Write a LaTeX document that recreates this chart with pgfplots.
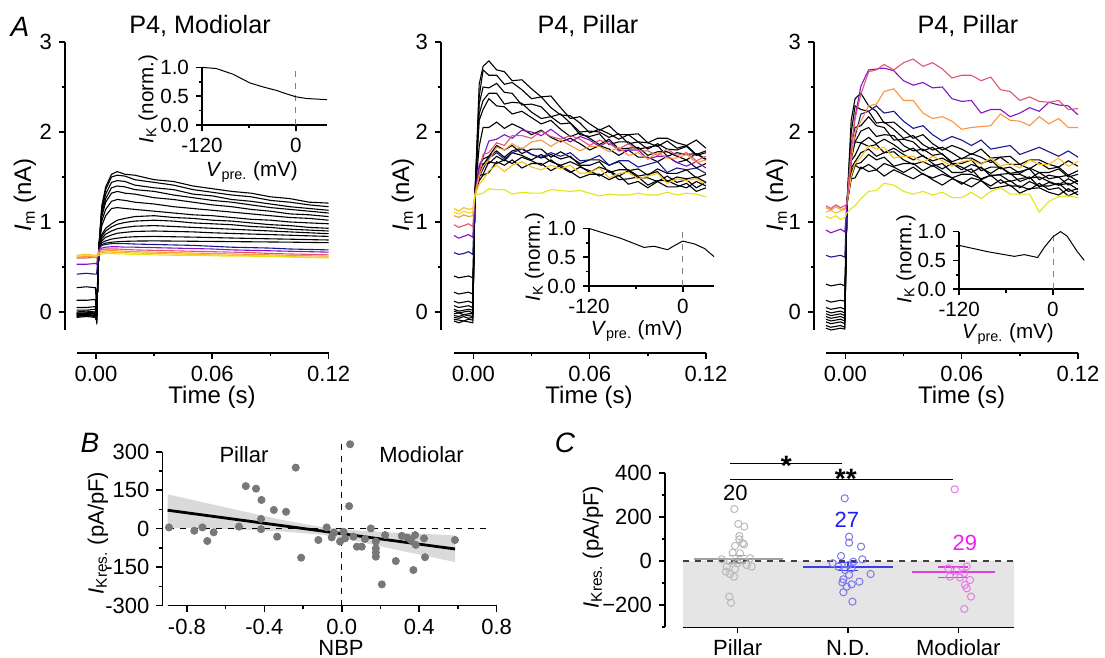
\documentclass[border=0pt]{standalone}
\usepackage{fontspec}
\setmainfont{Liberation Sans}
\setsansfont{Liberation Sans}
\usepackage{pgfplots}
\usepackage{pgfplotstable}
\pgfplotsset{compat=1.18}

\definecolor{cnv}{RGB}{25,25,140}
\definecolor{cpu}{RGB}{130,20,200}
\definecolor{cpk}{RGB}{225,85,110}
\definecolor{cor}{RGB}{250,150,60}
\definecolor{cgo}{RGB}{250,190,30}
\definecolor{cye}{RGB}{225,230,20}
\definecolor{dotB}{RGB}{120,120,120}
\definecolor{bandB}{RGB}{218,218,218}
\definecolor{pilC}{RGB}{185,185,185}
\definecolor{pilL}{RGB}{160,160,160}
\definecolor{ndC}{RGB}{120,120,235}
\definecolor{ndL}{RGB}{60,60,235}
\definecolor{moC}{RGB}{235,120,235}
\definecolor{moL}{RGB}{225,60,225}
\definecolor{ndT}{RGB}{30,30,240}
\definecolor{moT}{RGB}{240,30,240}

\newcommand\tk{\fontsize{11}{13}\selectfont}
\newcommand\lab{\fontsize{11}{13}\selectfont}
\newcommand\alab{\fontsize{12}{14}\selectfont}
\newcommand\ttl{\fontsize{12.6}{15}\selectfont}
\newcommand\ins{\fontsize{10.3}{12}\selectfont}

\pgfplotsset{
  panel/.style={scale only axis, anchor=south west, clip=false,
    axis x line*=bottom, axis y line*=left,
    axis line style={line width=0.8pt},
    tick style={black, line width=0.8pt},
    tick align=outside, major tick length=3pt, minor tick length=1.7pt,
    tick label style={font=\tk},
    /pgf/number format/assume math mode=true},
  inset/.style={panel, width=62.5pt, height=28.8pt, xmin=-120, xmax=40, ymin=0, ymax=1,
    xtick={-120,0}, minor xtick={-60}, ytick={0,0.5,1}, minor ytick={0.25,0.75},
    yticklabel style={/pgf/number format/.cd, fixed, fixed zerofill, precision=1},
    tick label style={font=\ins}},
  trace/.style={panel, width=126pt, height=144pt, xmin=-0.01, xmax=0.12, ymin=-0.2, ymax=3,
    xtick={0,0.06,0.12}, minor xtick={0.03,0.09}, ytick={0,1,2,3}, minor ytick={0.5,1.5,2.5},
    xticklabel style={/pgf/number format/.cd, fixed, fixed zerofill, precision=2},
    axis x line shift=11.5pt},
  tr/.style={line width=0.55pt},
}

% A, P4 modiolar: one row per time point
\pgfplotstableread{
x k1 k2 k3 k4 k5 k6 k7 k8 k9 k10 k11 k12 k13 nv pu pk or go ye
-0.010 -0.06 -0.05 -0.04 -0.04 -0.03 -0.02 -0.02 -0.01 0.00 0.02 0.05 0.13 0.27 0.42 0.53 0.60 0.61 0.63 0.62
-0.005 -0.05 -0.04 -0.04 -0.03 -0.03 -0.02 -0.01 -0.01 0.01 0.02 0.05 0.13 0.28 0.43 0.53 0.60 0.62 0.64 0.63
-0.0003 -0.06 -0.05 -0.03 -0.04 -0.02 -0.01 -0.02 0.00 0.00 0.03 0.06 0.14 0.27 0.42 0.54 0.61 0.61 0.63 0.62
0.0003 -0.09 -0.09 -0.09 -0.09 -0.09 -0.09 -0.09 -0.09 -0.09 -0.09 -0.09 -0.05 0.05 0.42 0.53 0.60 0.61 0.63 0.62
0.0015 0.72 0.72 0.72 0.72 0.72 0.72 0.72 0.72 0.72 0.72 0.72 0.72 0.72 0.70 0.69 0.68 0.66 0.65 0.63
0.003 1.18 1.16 1.13 1.09 1.06 1.01 0.96 0.86 0.84 0.815 0.79 0.77 0.75 0.74 0.71 0.69 0.67 0.66 0.645
0.005 1.39 1.36 1.31 1.26 1.22 1.14 1.07 0.93 0.90 0.865 0.83 0.79 0.765 0.75 0.72 0.70 0.68 0.665 0.65
0.008 1.53 1.50 1.44 1.38 1.32 1.23 1.15 0.98 0.945 0.90 0.855 0.81 0.775 0.76 0.725 0.70 0.68 0.665 0.65
0.011 1.56 1.52 1.46 1.40 1.34 1.25 1.16 1.02 0.975 0.925 0.875 0.82 0.78 0.76 0.725 0.70 0.68 0.66 0.645
0.015 1.53 1.51 1.45 1.39 1.32 1.24 1.15 1.04 0.995 0.94 0.885 0.83 0.785 0.76 0.72 0.695 0.675 0.66 0.645
0.020 1.52 1.47 1.41 1.36 1.31 1.22 1.14 1.06 1.01 0.953 0.895 0.836 0.788 0.755 0.72 0.69 0.67 0.655 0.64
0.030 1.47 1.44 1.38 1.34 1.27 1.20 1.12 1.07 1.02 0.96 0.90 0.84 0.79 0.75 0.715 0.685 0.665 0.65 0.635
0.040 1.45 1.41 1.36 1.30 1.25 1.17 1.10 1.05 1.01 0.95 0.895 0.836 0.788 0.745 0.71 0.68 0.66 0.645 0.63
0.050 1.40 1.36 1.31 1.27 1.22 1.15 1.08 1.04 0.99 0.94 0.89 0.832 0.786 0.74 0.705 0.675 0.655 0.64 0.63
0.060 1.37 1.33 1.29 1.24 1.19 1.13 1.07 1.02 0.98 0.93 0.88 0.827 0.784 0.73 0.70 0.67 0.65 0.635 0.625
0.070 1.34 1.30 1.25 1.22 1.17 1.11 1.05 1.01 0.97 0.92 0.873 0.822 0.782 0.72 0.69 0.665 0.645 0.63 0.62
0.080 1.32 1.28 1.23 1.19 1.14 1.09 1.03 0.99 0.95 0.91 0.866 0.817 0.78 0.715 0.685 0.66 0.64 0.625 0.62
0.090 1.28 1.24 1.20 1.16 1.12 1.07 1.02 0.97 0.94 0.90 0.86 0.813 0.778 0.71 0.68 0.65 0.635 0.62 0.615
0.100 1.26 1.22 1.17 1.14 1.09 1.05 1.00 0.96 0.92 0.89 0.853 0.809 0.776 0.70 0.675 0.645 0.63 0.615 0.61
0.110 1.22 1.19 1.15 1.12 1.08 1.04 0.99 0.94 0.91 0.88 0.846 0.804 0.773 0.695 0.67 0.64 0.625 0.61 0.605
0.120 1.21 1.17 1.13 1.10 1.06 1.02 0.98 0.93 0.90 0.87 0.84 0.80 0.77 0.69 0.665 0.635 0.62 0.605 0.60
}\tabA

% A, first P4 pillar cell: one row per trace, transposed below
\pgfplotstableread{
name a1 a2 a3 a4 a5 a6 a7 a8 a9 a10 a11 a12 a13 a14 a15 a16 a17 a18 a19 a20 a21 a22 a23 a24 a25 a26 a27 a28 a29 a30 a31 a32
x -0.01 -0.0075 -0.005 -0.0025 -0.0003 0.0008 0.003 0.005 0.008 0.012 0.016 0.02 0.025 0.03 0.035 0.04 0.045 0.05 0.055 0.06 0.065 0.07 0.075 0.08 0.085 0.09 0.095 0.1 0.105 0.11 0.115 0.12
t1 -0.10 -0.12 -0.10 -0.11 -0.12 1.30 2.53 2.73 2.79 2.69 2.67 2.57 2.58 2.48 2.39 2.40 2.27 2.15 2.17 2.09 2.02 2.07 1.97 1.97 1.98 1.88 1.93 1.93 1.88 1.85 1.91 1.82
t2 -0.08 -0.09 -0.10 -0.08 -0.09 1.30 2.39 2.69 2.63 2.63 2.53 2.55 2.47 2.37 2.39 2.27 2.19 2.18 2.10 1.99 2.03 1.98 1.92 1.97 1.89 1.88 1.84 1.90 1.82 1.85 1.75 1.79
t3 -0.06 -0.07 -0.05 -0.07 -0.06 1.30 2.31 2.50 2.49 2.54 2.44 2.43 2.30 2.31 2.28 2.17 2.20 2.10 2.00 2.01 2.00 1.94 1.98 1.87 1.89 1.81 1.87 1.81 1.80 1.84 1.74 1.77
t4 -0.04 -0.05 -0.03 -0.04 -0.05 1.30 2.20 2.35 2.43 2.43 2.31 2.33 2.32 2.22 2.15 2.17 2.09 2.10 1.97 1.95 1.98 1.86 1.89 1.89 1.81 1.83 1.85 1.73 1.77 1.75 1.76 1.69
t5 -0.02 -0.01 -0.03 -0.02 -0.02 1.30 2.13 2.25 2.37 2.29 2.28 2.20 2.23 2.16 2.09 2.13 2.03 1.95 1.99 1.93 1.86 1.92 1.81 1.82 1.83 1.74 1.78 1.78 1.73 1.69 1.76 1.70
t6 0.01 -0.01 0.00 0.01 -0.01 1.30 1.84 2.05 2.05 2.11 2.04 2.09 2.04 1.97 2.02 1.94 1.89 1.93 1.87 1.80 1.85 1.81 1.74 1.80 1.72 1.72 1.67 1.73 1.66 1.69 1.60 1.65
t7 0.03 0.01 0.02 0.03 0.02 1.30 1.61 1.70 1.73 1.85 1.80 1.85 1.76 1.81 1.81 1.72 1.78 1.72 1.65 1.69 1.69 1.63 1.67 1.57 1.59 1.52 1.59 1.54 1.54 1.58 1.49 1.53
t8 0.07 0.05 0.06 0.07 0.05 1.30 1.55 1.63 1.73 1.79 1.72 1.79 1.82 1.75 1.71 1.75 1.70 1.73 1.63 1.63 1.67 1.55 1.58 1.58 1.51 1.53 1.56 1.45 1.50 1.48 1.50 1.44
t9 0.12 0.10 0.11 0.12 0.10 1.30 1.49 1.65 1.65 1.73 1.68 1.77 1.74 1.69 1.75 1.67 1.63 1.67 1.62 1.55 1.61 1.57 1.51 1.57 1.49 1.49 1.45 1.51 1.44 1.47 1.38 1.44
t10 0.22 0.20 0.21 0.22 0.20 1.30 1.51 1.53 1.67 1.65 1.69 1.65 1.72 1.68 1.63 1.69 1.61 1.55 1.61 1.57 1.51 1.57 1.47 1.48 1.50 1.41 1.46 1.46 1.41 1.38 1.45 1.40
t11 0.40 0.38 0.39 0.40 0.38 1.30 1.46 1.52 1.55 1.67 1.63 1.69 1.60 1.65 1.65 1.57 1.63 1.56 1.49 1.53 1.53 1.47 1.52 1.42 1.45 1.38 1.45 1.39 1.39 1.43 1.34 1.38
nv 0.66 0.64 0.65 0.67 0.64 1.30 1.50 1.59 1.71 1.77 1.70 1.77 1.81 1.75 1.72 1.77 1.73 1.77 1.68 1.69 1.74 1.63 1.68 1.68 1.61 1.64 1.67 1.55 1.60 1.58 1.60 1.54
pu 0.85 0.82 0.84 0.86 0.83 1.30 1.63 1.72 1.90 1.92 1.97 1.93 2.02 2.00 1.96 2.03 1.95 1.89 1.95 1.91 1.84 1.90 1.79 1.80 1.80 1.70 1.73 1.73 1.66 1.62 1.67 1.60
pk 0.97 0.94 0.96 0.98 0.95 1.30 1.54 1.75 1.77 1.88 1.85 1.96 1.96 1.93 2.01 1.95 1.92 1.96 1.92 1.85 1.91 1.87 1.81 1.87 1.79 1.79 1.74 1.81 1.74 1.77 1.68 1.73
or 1.07 1.05 1.08 1.06 1.07 1.30 1.51 1.62 1.69 1.83 1.80 1.87 1.81 1.89 1.91 1.84 1.91 1.85 1.79 1.84 1.84 1.78 1.83 1.74 1.77 1.70 1.77 1.71 1.71 1.75 1.66 1.69
go 1.15 1.12 1.16 1.14 1.15 1.30 1.42 1.47 1.57 1.63 1.56 1.63 1.67 1.61 1.58 1.63 1.59 1.63 1.54 1.55 1.60 1.49 1.54 1.55 1.48 1.51 1.54 1.43 1.48 1.46 1.48 1.42
ye 1.11 1.09 1.12 1.10 1.11 1.30 1.31 1.32 1.37 1.36 1.36 1.31 1.33 1.32 1.32 1.36 1.35 1.34 1.35 1.32 1.29 1.31 1.30 1.30 1.32 1.30 1.30 1.33 1.30 1.32 1.31 1.28
}\rawB
\pgfplotstabletranspose[colnames from=name]\tabB{\rawB}

% A, second P4 pillar cell
\pgfplotstableread{
name a1 a2 a3 a4 a5 a6 a7 a8 a9 a10 a11 a12 a13 a14 a15 a16 a17 a18 a19 a20 a21 a22 a23 a24 a25 a26 a27 a28 a29 a30 a31 a32
x -0.01 -0.0075 -0.005 -0.0025 -0.0003 0.0008 0.003 0.005 0.008 0.012 0.016 0.02 0.025 0.03 0.035 0.04 0.045 0.05 0.055 0.06 0.065 0.07 0.075 0.08 0.085 0.09 0.095 0.1 0.105 0.11 0.115 0.12
b1 0.31 0.29 0.30 0.31 0.29 1.20 2.13 2.37 2.43 2.29 2.23 2.10 2.11 2.02 1.93 1.97 1.87 1.80 1.85 1.81 1.75 1.81 1.71 1.72 1.73 1.64 1.69 1.69 1.64 1.61 1.68 1.62
b2 0.13 0.11 0.12 0.13 0.12 1.20 1.99 2.29 2.25 2.23 2.10 2.11 2.03 1.93 1.96 1.86 1.80 1.83 1.77 1.70 1.76 1.72 1.66 1.72 1.64 1.64 1.59 1.66 1.59 1.61 1.52 1.57
b3 0.05 0.03 0.04 0.05 0.03 1.20 1.86 2.05 2.07 2.17 2.07 2.05 1.91 1.92 1.89 1.79 1.83 1.75 1.67 1.71 1.71 1.65 1.69 1.59 1.61 1.54 1.60 1.55 1.55 1.59 1.50 1.53
b4 0.01 -0.01 0.00 0.01 -0.01 1.20 1.75 1.89 2.01 2.05 1.95 1.97 1.96 1.85 1.79 1.81 1.74 1.76 1.65 1.65 1.69 1.57 1.61 1.61 1.54 1.56 1.59 1.47 1.52 1.50 1.52 1.45
b5 -0.02 -0.04 -0.03 -0.02 -0.04 1.20 1.69 1.89 1.88 1.94 1.87 1.92 1.86 1.78 1.82 1.73 1.68 1.71 1.65 1.58 1.64 1.60 1.54 1.61 1.53 1.53 1.48 1.55 1.48 1.50 1.41 1.46
b6 -0.05 -0.07 -0.06 -0.05 -0.07 1.20 1.68 1.74 1.88 1.84 1.86 1.77 1.82 1.75 1.69 1.74 1.65 1.59 1.65 1.61 1.55 1.61 1.51 1.53 1.54 1.45 1.49 1.50 1.45 1.41 1.48 1.42
b7 -0.08 -0.10 -0.09 -0.08 -0.10 1.20 1.60 1.67 1.77 1.81 1.73 1.77 1.78 1.69 1.64 1.67 1.62 1.65 1.55 1.55 1.59 1.47 1.52 1.52 1.45 1.48 1.50 1.39 1.44 1.41 1.43 1.36
b8 -0.11 -0.13 -0.12 -0.11 -0.13 1.20 1.56 1.64 1.66 1.75 1.69 1.72 1.62 1.65 1.65 1.57 1.63 1.56 1.49 1.53 1.53 1.48 1.52 1.43 1.46 1.38 1.45 1.40 1.40 1.43 1.34 1.37
b9 -0.15 -0.17 -0.16 -0.15 -0.17 1.20 1.49 1.63 1.59 1.64 1.58 1.65 1.61 1.55 1.61 1.53 1.49 1.53 1.49 1.42 1.49 1.46 1.40 1.47 1.40 1.40 1.36 1.43 1.36 1.38 1.29 1.34
b10 -0.18 -0.20 -0.19 -0.18 -0.19 1.20 1.48 1.49 1.61 1.56 1.58 1.51 1.58 1.53 1.48 1.54 1.47 1.41 1.48 1.44 1.39 1.46 1.37 1.39 1.41 1.32 1.37 1.38 1.33 1.30 1.37 1.30
nv 0.63 0.61 0.62 0.63 0.61 1.20 1.73 1.95 2.20 2.23 2.29 2.21 2.23 2.12 2.04 2.07 1.97 1.90 1.95 1.91 1.85 1.91 1.81 1.83 1.85 1.75 1.79 1.83 1.78 1.73 1.79 1.72
go 1.11 1.13 1.10 1.12 1.14 1.20 1.51 1.65 1.72 1.85 1.81 1.83 1.71 1.73 1.73 1.66 1.73 1.68 1.62 1.67 1.69 1.64 1.71 1.62 1.65 1.60 1.69 1.64 1.64 1.71 1.62 1.67
or 1.16 1.13 1.17 1.14 1.15 1.20 1.69 2.00 2.12 2.29 2.31 2.45 2.48 2.35 2.35 2.21 2.15 2.17 2.12 2.03 2.05 2.06 2.07 2.20 2.13 2.12 2.07 2.17 2.09 2.15 2.05 2.05
pu 0.91 0.88 0.90 0.92 0.89 1.20 1.80 2.17 2.51 2.69 2.70 2.71 2.68 2.57 2.52 2.55 2.49 2.50 2.37 2.34 2.35 2.21 2.25 2.25 2.17 2.21 2.27 2.23 2.33 2.30 2.29 2.19
pk 1.18 1.15 1.19 1.16 1.18 1.20 1.81 2.15 2.42 2.67 2.69 2.75 2.69 2.77 2.81 2.73 2.77 2.70 2.60 2.63 2.63 2.57 2.61 2.47 2.45 2.35 2.39 2.34 2.33 2.35 2.25 2.26
ye 1.06 1.04 1.07 1.03 1.05 1.10 1.15 1.18 1.26 1.34 1.35 1.43 1.41 1.34 1.31 1.34 1.30 1.33 1.27 1.27 1.33 1.26 1.34 1.38 1.31 1.31 1.31 1.11 1.23 1.28 1.29 1.27
}\rawC
\pgfplotstabletranspose[colnames from=name]\tabC{\rawC}

\begin{document}
\begin{tikzpicture}
\useasboundingbox (0,0) rectangle (552.5pt,329pt);

% ---------- A, left ----------
\begin{axis}[trace, at={(38.3pt,164pt)}, axis y line shift=5.8pt]
\pgfplotsinvokeforeach{k1,k2,k3,k4,k5,k6,k7,k8,k9,k10,k11,k12,k13}{
  \addplot[tr, black] table[x=x, y=#1] {\tabA};}
\addplot[tr, cnv] table[x=x, y=nv] {\tabA};
\addplot[tr, cpu] table[x=x, y=pu] {\tabA};
\addplot[tr, cpk] table[x=x, y=pk] {\tabA};
\addplot[tr, cor] table[x=x, y=or] {\tabA};
\addplot[tr, cgo] table[x=x, y=go] {\tabA};
\addplot[tr, cye] table[x=x, y=ye] {\tabA};
\end{axis}
\begin{axis}[inset, at={(101pt,266.5pt)}]
\addplot[gray, dashed, line width=0.4pt] coordinates {(0,0) (0,1)};
\addplot[black, line width=0.5pt] coordinates {(-120,1.0) (-101.7,0.98) (-80,0.88) (-58.7,0.73) (-41.7,0.66) (-24.6,0.60) (-11.8,0.54) (0,0.49) (13.6,0.46) (40,0.44)};
\end{axis}

% ---------- A, middle ----------
\begin{axis}[trace, at={(227pt,164pt)}, axis y line shift=6.5pt]
\pgfplotsinvokeforeach{t1,t2,t3,t4,t5,t6,t7,t8,t9,t10,t11}{
  \addplot[tr, black] table[x=x, y=#1] {\tabB};}
\addplot[tr, cnv] table[x=x, y=nv] {\tabB};
\addplot[tr, cpu] table[x=x, y=pu] {\tabB};
\addplot[tr, cpk] table[x=x, y=pk] {\tabB};
\addplot[tr, cor] table[x=x, y=or] {\tabB};
\addplot[tr, cgo] table[x=x, y=go] {\tabB};
\addplot[tr, cye] table[x=x, y=ye] {\tabB};
\end{axis}
\begin{axis}[inset, at={(294.5pt,186pt)}]
\addplot[gray, dashed, line width=0.4pt] coordinates {(0,0) (0,1)};
\addplot[black, line width=0.5pt] coordinates {(-120,1.0) (-101.5,0.92) (-79.8,0.83) (-49.6,0.67) (-36.7,0.69) (-19.4,0.63) (-10.8,0.70) (0,0.78) (15,0.73) (28,0.65) (40,0.51)};
\end{axis}

% ---------- A, right ----------
\begin{axis}[trace, at={(413pt,164pt)}, axis y line shift=6pt]
\pgfplotsinvokeforeach{b1,b2,b3,b4,b5,b6,b7,b8,b9,b10}{
  \addplot[tr, black] table[x=x, y=#1] {\tabC};}
\addplot[tr, cnv] table[x=x, y=nv] {\tabC};
\addplot[tr, cgo] table[x=x, y=go] {\tabC};
\addplot[tr, cor] table[x=x, y=or] {\tabC};
\addplot[tr, cpu] table[x=x, y=pu] {\tabC};
\addplot[tr, cpk] table[x=x, y=pk] {\tabC};
\addplot[tr, cye] table[x=x, y=ye] {\tabC};
\end{axis}
\begin{axis}[inset, at={(479.6pt,184.4pt)}]
\addplot[gray, dashed, line width=0.4pt] coordinates {(0,0) (0,1)};
\addplot[black, line width=0.5pt] coordinates {(-120,0.76) (-83.2,0.65) (-49.4,0.57) (-36.7,0.60) (-19.6,0.55) (-11.4,0.72) (0,0.91) (9.7,1.0) (18.2,0.92) (30.8,0.66) (40,0.50)};
\end{axis}

% ---------- B ----------
\begin{axis}[panel, at={(83.8pt,26.15pt)}, width=164.5pt, height=77pt,
  xmin=-0.9, xmax=0.8, ymin=-300, ymax=300,
  xtick={-0.8,-0.4,0,0.4,0.8}, minor xtick={-0.6,-0.2,0.2,0.6},
  ytick={-300,-150,0,150,300}, minor ytick={-225,-75,75,225},
  xticklabel style={/pgf/number format/.cd, fixed, fixed zerofill, precision=1},
  axis y line shift=2.6pt]
\addplot[fill=bandB, draw=none] coordinates {(-0.9,134) (-0.7,100) (-0.5,66) (-0.3,33) (-0.1,6) (0.1,-8) (0.3,-16) (0.585,-26) (0.585,-130) (0.3,-85) (0.1,-52) (-0.1,-24) (-0.3,-11) (-0.5,-4) (-0.7,2) (-0.9,4)} -- cycle;
\addplot[black, dashed, line width=0.5pt] coordinates {(-0.9,0) (0.77,0)};
\addplot[black, dashed, line width=0.5pt] coordinates {(0,-300) (0,334)};
\addplot[only marks, mark=*, mark size=1.8pt, dotB, mark options={draw=dotB, fill=dotB}] coordinates {
(-0.893,5) (-0.762,-8) (-0.72,5) (-0.695,-48) (-0.662,-14) (-0.531,8) (-0.496,166) (-0.443,156)
(-0.415,112) (-0.417,38) (-0.417,-2) (-0.351,73) (-0.334,-31) (-0.288,66) (-0.238,238) (-0.21,-113)
(-0.121,-44) (-0.078,5) (-0.052,-34) (-0.009,-50) (0.009,-12) (0.017,-38) (0.043,329) (0.038,88)
(0.06,-31) (0.078,-70) (0.103,-70) (0.12,-40) (0.15,1) (0.176,-50) (0.176,-77) (0.176,-93)
(0.176,-109) (0.207,-217) (0.224,-25) (0.279,-126) (0.31,-28) (0.339,-35) (0.357,-44) (0.379,-25)
(0.382,-63) (0.37,-161) (0.425,-38) (0.43,-111) (0.585,-44) (-0.04,-15)};
\addplot[black, line width=1.4pt] coordinates {(-0.9,72) (0.585,-79)};
\end{axis}

% ---------- C ----------
\begin{axis}[panel, at={(341.25pt,15.55pt)}, width=165.5pt, height=76.8pt,
  xmin=-0.5, xmax=2.5, ymin=-300, ymax=400,
  xtick={0,1,2}, xticklabels={Pillar, N.D., Modiolar},
  ytick={-200,0,200,400}, yticklabels={−200,0,200,400}, minor ytick={-300,-100,100,300},
  axis y line shift=8.75pt]
\addplot[fill=gray!20, draw=none] coordinates {(-0.5,-300) (2.5,-300) (2.5,0) (-0.5,0)} -- cycle;
\addplot[black!75, dashed, line width=0.6pt] coordinates {(-0.5,0) (2.5,0)};
\addplot[only marks, mark=o, mark size=1.8pt, pilC, mark options={line width=0.5pt}] coordinates {
(-0.03,237) (0.006,169) (0.06,157) (0.015,114) (0.015,99) (0.045,81) (-0.024,69) (0.057,76)
(-0.045,38) (0.021,35) (-0.145,8) (0.112,13) (-0.07,-3) (0,-10) (0.082,-18) (0.127,-25)
(-0.1,-25) (-0.024,-37) (-0.106,-48) (-0.07,-59) (-0.033,-71) (-0.076,-162) (-0.06,-190)};
\addplot[only marks, mark=o, mark size=1.8pt, ndC, mark options={line width=0.5pt}] coordinates {
(0.97,286) (1.01,111) (1.01,84) (1.118,66) (0.937,23) (1.13,8) (0.861,-10) (1.048,-3)
(0.912,-25) (1.003,-18) (0.973,-41) (1.033,-33) (1.205,-59) (1.01,-63) (0.958,-83) (0.949,-97)
(1.103,-94) (1.033,-106) (0.988,-117) (0.958,-142) (1.04,-185)};
\addplot[only marks, mark=o, mark size=1.8pt, moC, mark options={line width=0.5pt}] coordinates {
(1.967,327) (1.909,-33) (1.985,-44) (2.076,-25) (2.051,-56) (2.106,-86) (2.06,-109) (2.076,-124)
(2.115,-162) (2.054,-218) (1.924,-71) (2.015,-75)};
% means with SEM
\addplot[pilL, line width=1pt] coordinates {(-0.40,8) (0.41,8)};
\addplot[pilL, line width=0.8pt] coordinates {(0,-9) (0,25)};
\addplot[pilL, line width=0.8pt] coordinates {(-0.08,25) (0.08,25)};
\addplot[pilL, line width=0.8pt] coordinates {(-0.08,-9) (0.08,-9)};
\addplot[ndL, line width=1pt] coordinates {(0.595,-25) (1.41,-25)};
\addplot[ndL, line width=0.8pt] coordinates {(1,-43) (1,-7)};
\addplot[ndL, line width=0.8pt] coordinates {(0.91,-7) (1.09,-7)};
\addplot[ndL, line width=0.8pt] coordinates {(0.91,-43) (1.09,-43)};
\addplot[moL, line width=1pt] coordinates {(1.58,-51) (2.33,-51)};
\addplot[moL, line width=0.8pt] coordinates {(1.955,-75) (1.955,-27)};
\addplot[moL, line width=0.8pt] coordinates {(1.82,-27) (2.09,-27)};
\addplot[moL, line width=0.8pt] coordinates {(1.82,-75) (2.09,-75)};
% significance
\addplot[black, line width=0.6pt] coordinates {(-0.07,443) (0.95,443)};
\addplot[black, line width=0.6pt] coordinates {(-0.07,370) (1.955,370)};
\node[anchor=base, inner sep=0] at (axis cs:0.44,388) {\fontsize{14}{14}\selectfont\bfseries *};
\node[anchor=base, inner sep=0] at (axis cs:0.98,329) {\fontsize{14}{14}\selectfont\bfseries **};
\node[font=\lab] at (axis cs:-0.02,309) {20};
\node[font=\lab, text=ndT] at (axis cs:0.99,187) {27};
\node[font=\lab, text=moT] at (axis cs:2.06,81) {29};
\end{axis}

% ---------- texts ----------
\node[font=\fontsize{14}{16}\selectfont\itshape] at (10pt,315.5pt) {A};
\node[font=\fontsize{14}{16}\selectfont\itshape] at (45pt,107.5pt) {B};
\node[font=\fontsize{14}{16}\selectfont\itshape] at (282.5pt,107.5pt) {C};
\node[font=\ttl] at (100pt,316pt) {P4, Modiolar};
\node[font=\ttl] at (294pt,316pt) {P4, Pillar};
\node[font=\ttl] at (484pt,316pt) {P4, Pillar};
\foreach \xx in {12.5pt,201.5pt,388.5pt}
  \node[font=\alab, rotate=90] at (\xx,231.5pt) {\textit{I}\textsubscript{m} (nA)};
\foreach \xx in {106pt,294.5pt,480.8pt}
  \node[font=\alab] at (\xx,130.5pt) {Time (s)};
\node[font=\ins, rotate=90] at (74pt,279.5pt) {\textit{I}\textsubscript{K} (norm.)};
\node[font=\ins] at (126pt,243pt) {\textit{V}\textsubscript{pre.} (mV)};
\node[font=\ins, rotate=90] at (267.3pt,200.5pt) {\textit{I}\textsubscript{K} (norm.)};
\node[font=\ins] at (318.3pt,163.5pt) {\textit{V}\textsubscript{pre.} (mV)};
\node[font=\ins, rotate=90] at (453pt,199.5pt) {\textit{I}\textsubscript{K} (norm.)};
\node[font=\ins] at (504pt,162pt) {\textit{V}\textsubscript{pre.} (mV)};
\node[font=\lab, rotate=90] at (49pt,62.5pt) {\textit{I}\textsubscript{Kres.} (pA/pF)};
\node[font=\lab] at (170.5pt,5pt) {NBP};
\node[font=\lab] at (122pt,101.5pt) {Pillar};
\node[font=\lab] at (210.8pt,101.5pt) {Modiolar};
\node[font=\lab, rotate=90] at (296.5pt,55.5pt) {\textit{I}\textsubscript{Kres.} (pA/pF)};
\end{tikzpicture}
\end{document}
